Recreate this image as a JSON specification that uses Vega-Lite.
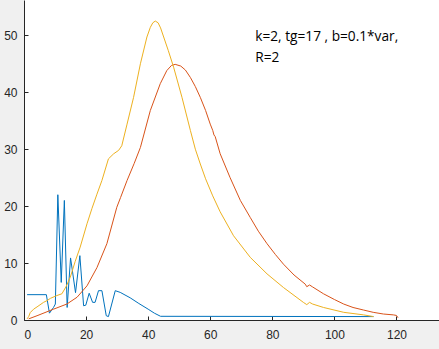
{
  "$schema": "https://vega.github.io/schema/vega-lite/v6.json",
  "width": 415,
  "height": 320,
  "autosize": {"type": "none"},
  "padding": {"left": 24, "top": 0, "right": 0, "bottom": 29},
  "background": "#F0F0F0",
  "view": {"fill": "#FFFFFF", "stroke": null},
  "config": {
    "axis": {
      "grid": false,
      "domainColor": "#262626",
      "domainWidth": 1,
      "tickColor": "#262626",
      "tickSize": -4,
      "tickWidth": 1,
      "labelColor": "#262626",
      "labelFont": "Liberation Sans",
      "labelFontSize": 12,
      "title": null
    }
  },
  "datasets": {
    "lines": [
      {"s": "a", "x": 1, "y": 4.45}, {"s": "a", "x": 7.2, "y": 4.45}, {"s": "a", "x": 8.2, "y": 1.2}, {"s": "a", "x": 9.5, "y": 2.2}, {"s": "a", "x": 10.1, "y": 2.8}, {"s": "a", "x": 10.9, "y": 22.0}, {"s": "a", "x": 12.0, "y": 6.6}, {"s": "a", "x": 13.0, "y": 21.0}, {"s": "a", "x": 13.9, "y": 2.2}, {"s": "a", "x": 15.0, "y": 10.9}, {"s": "a", "x": 16.6, "y": 4.8}, {"s": "a", "x": 18.0, "y": 11.3}, {"s": "a", "x": 19.2, "y": 2.5}, {"s": "a", "x": 19.9, "y": 2.6}, {"s": "a", "x": 21.0, "y": 4.7}, {"s": "a", "x": 22.1, "y": 3.1}, {"s": "a", "x": 22.9, "y": 3.1}, {"s": "a", "x": 24.0, "y": 5.15}, {"s": "a", "x": 25.1, "y": 5.15}, {"s": "a", "x": 26.5, "y": 0.75}, {"s": "a", "x": 27.2, "y": 0.6}, {"s": "a", "x": 29.4, "y": 5.15}, {"s": "a", "x": 31, "y": 4.85}, {"s": "a", "x": 34.2, "y": 3.9}, {"s": "a", "x": 37, "y": 2.9}, {"s": "a", "x": 40, "y": 1.9}, {"s": "a", "x": 42, "y": 1.2}, {"s": "a", "x": 44, "y": 0.65}, {"s": "a", "x": 112.6, "y": 0.6},
      {"s": "b", "x": 1.5, "y": 0.2}, {"s": "b", "x": 4.2, "y": 0.75}, {"s": "b", "x": 9.5, "y": 1.9}, {"s": "b", "x": 13.8, "y": 2.8}, {"s": "b", "x": 17.1, "y": 4.0}, {"s": "b", "x": 20.3, "y": 6.0}, {"s": "b", "x": 23.5, "y": 9.2}, {"s": "b", "x": 26.7, "y": 13.4}, {"s": "b", "x": 29.9, "y": 19.8}, {"s": "b", "x": 31.1, "y": 21.5}, {"s": "b", "x": 33.2, "y": 24.5}, {"s": "b", "x": 35.5, "y": 27.5}, {"s": "b", "x": 37.5, "y": 30.3}, {"s": "b", "x": 40.7, "y": 36.8}, {"s": "b", "x": 43.9, "y": 41.5}, {"s": "b", "x": 46, "y": 43.8}, {"s": "b", "x": 47.5, "y": 44.7}, {"s": "b", "x": 48.7, "y": 44.9}, {"s": "b", "x": 50.5, "y": 44.6}, {"s": "b", "x": 52, "y": 43.9}, {"s": "b", "x": 53.6, "y": 42.6}, {"s": "b", "x": 55.2, "y": 41.0}, {"s": "b", "x": 56.8, "y": 39.1}, {"s": "b", "x": 58.5, "y": 36.8}, {"s": "b", "x": 60, "y": 34.4}, {"s": "b", "x": 60.8, "y": 33.3}, {"s": "b", "x": 61.2, "y": 32.5}, {"s": "b", "x": 61.6, "y": 32.2}, {"s": "b", "x": 63.2, "y": 29.2}, {"s": "b", "x": 66.4, "y": 25.0}, {"s": "b", "x": 69.7, "y": 21.0}, {"s": "b", "x": 72.9, "y": 18.0}, {"s": "b", "x": 75.5, "y": 15.6}, {"s": "b", "x": 78.3, "y": 13.4}, {"s": "b", "x": 81, "y": 11.5}, {"s": "b", "x": 83.6, "y": 9.8}, {"s": "b", "x": 87, "y": 7.9}, {"s": "b", "x": 90.6, "y": 6.3}, {"s": "b", "x": 91.1, "y": 5.85}, {"s": "b", "x": 92, "y": 6.15}, {"s": "b", "x": 93, "y": 5.8}, {"s": "b", "x": 96.5, "y": 4.6}, {"s": "b", "x": 100, "y": 3.6}, {"s": "b", "x": 103, "y": 2.8}, {"s": "b", "x": 106, "y": 2.2}, {"s": "b", "x": 109.4, "y": 1.75}, {"s": "b", "x": 112.5, "y": 1.35}, {"s": "b", "x": 115.8, "y": 1.05}, {"s": "b", "x": 119, "y": 0.9}, {"s": "b", "x": 120, "y": 0.8}, {"s": "b", "x": 120.5, "y": 0.4},
      {"s": "c", "x": 1.0, "y": 0.2}, {"s": "c", "x": 1.5, "y": 0.6}, {"s": "c", "x": 2.0, "y": 1.3}, {"s": "c", "x": 3.1, "y": 1.9}, {"s": "c", "x": 4.2, "y": 2.3}, {"s": "c", "x": 6.3, "y": 3.1}, {"s": "c", "x": 7.4, "y": 3.4}, {"s": "c", "x": 8.5, "y": 3.8}, {"s": "c", "x": 10.6, "y": 4.3}, {"s": "c", "x": 12.2, "y": 4.6}, {"s": "c", "x": 13.5, "y": 5.8}, {"s": "c", "x": 14.9, "y": 7.5}, {"s": "c", "x": 16.5, "y": 10.3}, {"s": "c", "x": 18.1, "y": 12.8}, {"s": "c", "x": 20.3, "y": 16.9}, {"s": "c", "x": 21.9, "y": 19.6}, {"s": "c", "x": 23.5, "y": 22.1}, {"s": "c", "x": 25.1, "y": 24.5}, {"s": "c", "x": 27.2, "y": 28.3}, {"s": "c", "x": 28.9, "y": 29.2}, {"s": "c", "x": 30.5, "y": 29.8}, {"s": "c", "x": 31.5, "y": 30.6}, {"s": "c", "x": 33.2, "y": 34.4}, {"s": "c", "x": 35.3, "y": 39.1}, {"s": "c", "x": 37.5, "y": 45.0}, {"s": "c", "x": 39.6, "y": 49.7}, {"s": "c", "x": 40.7, "y": 51.4}, {"s": "c", "x": 41.5, "y": 52.2}, {"s": "c", "x": 42.3, "y": 52.5}, {"s": "c", "x": 43.2, "y": 52.2}, {"s": "c", "x": 44, "y": 51.3}, {"s": "c", "x": 45, "y": 49.7}, {"s": "c", "x": 46.5, "y": 47.3}, {"s": "c", "x": 48.2, "y": 44.4}, {"s": "c", "x": 50.9, "y": 39.1}, {"s": "c", "x": 53.6, "y": 33.3}, {"s": "c", "x": 55.2, "y": 30.0}, {"s": "c", "x": 56.8, "y": 27.4}, {"s": "c", "x": 58.5, "y": 24.8}, {"s": "c", "x": 60.8, "y": 21.8}, {"s": "c", "x": 63.2, "y": 19.0}, {"s": "c", "x": 67.5, "y": 14.8}, {"s": "c", "x": 72.9, "y": 11.0}, {"s": "c", "x": 78.3, "y": 8.1}, {"s": "c", "x": 83.6, "y": 5.7}, {"s": "c", "x": 90, "y": 3.1}, {"s": "c", "x": 91.1, "y": 2.7}, {"s": "c", "x": 92, "y": 3.1}, {"s": "c", "x": 93, "y": 2.8}, {"s": "c", "x": 96.5, "y": 2.2}, {"s": "c", "x": 103, "y": 1.35}, {"s": "c", "x": 109.4, "y": 0.9}, {"s": "c", "x": 112.6, "y": 0.6}
    ],
    "note": [
      {"x": 74.5, "y": 49.0, "label": "k=2, tg=17 , b=0.1*var,\nR=2"}
    ]
  },
  "layer": [
    {
      "data": {"name": "lines"},
      "mark": {"type": "line", "strokeWidth": 1, "clip": true},
      "encoding": {
        "x": {"field": "x", "type": "quantitative", "scale": {"domain": [0, 133.7], "nice": false, "zero": false}, "axis": {"values": [0, 20, 40, 60, 80, 100, 120], "labelPadding": 13}},
        "y": {"field": "y", "type": "quantitative", "scale": {"domain": [0, 56.2], "nice": false, "zero": false}, "axis": {"values": [0, 10, 20, 30, 40, 50], "labelPadding": 11}},
        "color": {"field": "s", "type": "nominal", "scale": {"domain": ["a", "b", "c"], "range": ["#0072BD", "#D95319", "#EDB120"]}, "legend": null}
      }
    },
    {
      "data": {"name": "note"},
      "mark": {"type": "text", "align": "left", "baseline": "alphabetic", "font": "Open Sans", "fontSize": 13.7, "color": "#000000", "lineBreak": "\n", "lineHeight": 21},
      "encoding": {
        "x": {"field": "x", "type": "quantitative"},
        "y": {"field": "y", "type": "quantitative"},
        "text": {"field": "label"}
      }
    }
  ]
}
